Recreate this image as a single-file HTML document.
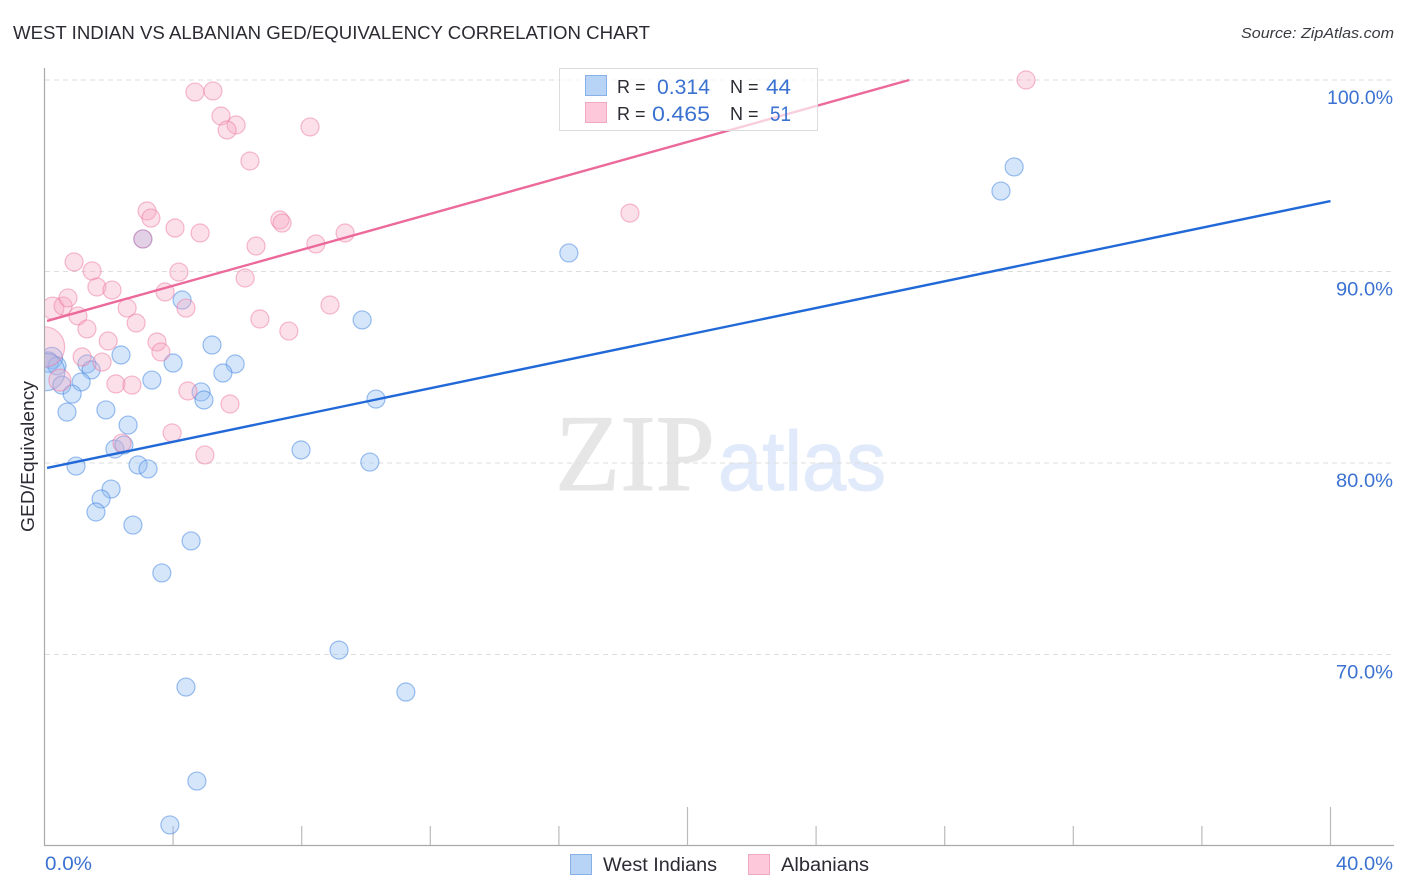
<!DOCTYPE html>
<html lang="en">
<head>
<meta charset="utf-8">
<title>West Indian vs Albanian GED/Equivalency Correlation Chart</title>
<style>
html,body{margin:0;padding:0;background:#fff;width:1406px;height:892px;overflow:hidden}
svg{display:block;font-family:"Liberation Sans",sans-serif}
</style>
</head>
<body>
<svg id="chart" xmlns="http://www.w3.org/2000/svg" width="1406" height="892" viewBox="0 0 1406 892">
  <text x="13" y="39" font-size="18.5" fill="#2b2b33" textLength="637" lengthAdjust="spacingAndGlyphs">WEST INDIAN VS ALBANIAN GED/EQUIVALENCY CORRELATION CHART</text>
  <text x="1241" y="38" font-size="15" font-style="italic" fill="#3a3a42" textLength="153" lengthAdjust="spacingAndGlyphs">Source: ZipAtlas.com</text>
  <text transform="translate(34,532) rotate(-90)" font-size="18" fill="#2b2b33" textLength="151" lengthAdjust="spacingAndGlyphs">GED/Equivalency</text>

  <g>
    <text x="555" y="490" font-family="'Liberation Serif',serif" font-size="109" fill="#e6e6e6" stroke="#e6e6e6" stroke-width="1" textLength="160" lengthAdjust="spacingAndGlyphs">ZIP</text>
    <text x="718" y="490" font-family="'Liberation Sans',sans-serif" font-size="84" fill="#e0eafa" stroke="#e0eafa" stroke-width="1" textLength="168" lengthAdjust="spacingAndGlyphs">atlas</text>
  </g>

  <g id="grid"></g>
  <g id="axes"></g>
  <svg x="45" y="60" width="1349" height="785" viewBox="45 60 1349 785" overflow="hidden">
    <g id="blue-points"></g>
    <g id="pink-points"></g>
    <g id="trends"></g>
  </svg>
  <g id="labels"></g>

  <g>
    <rect x="559.5" y="68.5" width="258" height="62" fill="#fff" fill-opacity="0.68" stroke="#dcdcdc" stroke-width="1"></rect>
    <rect x="585.5" y="75.5" width="21" height="20" fill="#b7d3f6" stroke="#86b0e6"></rect>
    <rect x="585.5" y="102.5" width="21" height="20" fill="#fcc8da" stroke="#efa9c0"></rect>
    <text x="617" y="93" font-size="18" fill="#2b2b33">R =</text>
    <text x="657" y="94" font-size="21" fill="#3b72d1" textLength="53" lengthAdjust="spacingAndGlyphs">0.314</text>
    <text x="730" y="93" font-size="18" fill="#2b2b33">N =</text>
    <text x="766" y="94" font-size="21" fill="#3b72d1" textLength="25" lengthAdjust="spacingAndGlyphs">44</text>
    <text x="617" y="120" font-size="18" fill="#2b2b33">R =</text>
    <text x="652" y="121" font-size="21" fill="#3b72d1" textLength="58" lengthAdjust="spacingAndGlyphs">0.465</text>
    <text x="730" y="120" font-size="18" fill="#2b2b33">N =</text>
    <text x="770" y="121" font-size="21" fill="#3b72d1" textLength="21" lengthAdjust="spacingAndGlyphs">51</text>
  </g>

  <g>
    <rect x="570.5" y="854.5" width="21" height="20" fill="#b7d3f6" stroke="#86b0e6"></rect>
    <text x="603" y="871" font-size="19" fill="#2b2b33" textLength="114" lengthAdjust="spacingAndGlyphs">West Indians</text>
    <rect x="748.5" y="854.5" width="21" height="20" fill="#fcc8da" stroke="#efa9c0"></rect>
    <text x="781" y="871" font-size="19" fill="#2b2b33" textLength="88" lengthAdjust="spacingAndGlyphs">Albanians</text>
  </g>
</svg>
<script>
const blueX = [0.23,0.11,0.39,0.05,1.32,1.45,1.14,0.54,0.86,0.70,1.91,2.38,3.34,4.00,4.28,3.06,5.21,5.93,5.55,4.87,4.96,9.88,10.31,2.60,2.19,2.47,2.91,3.22,0.98,2.07,1.76,1.60,2.75,4.56,3.65,7.98,10.12,9.16,4.40,11.24,4.74,3.90,16.31,29.75,30.16];
const blueY = [85.48,85.27,85.07,84.75,85.17,84.86,84.23,84.07,83.60,82.66,82.77,85.64,84.33,85.22,88.51,91.70,86.16,85.17,84.70,83.71,83.29,87.47,83.34,81.98,80.73,80.94,79.90,79.69,79.84,78.64,78.12,77.44,76.76,75.93,74.26,80.68,80.05,70.23,68.30,68.04,63.39,61.10,90.97,94.20,95.46];
const blueWeight = [1.4,1.3,1,4.3,1,1,1,1,1,1,1,1,1,1,1,1,1,1,1,1,1,1,1,1,1,1,1,1,1,1,1,1,1,1,1,1,1,1,1,1,1,1,1,1,1];
const pinkX = [0,0.26,0.58,0.73,0.92,1.48,1.63,2.10,1.04,1.32,1.98,2.57,2.85,1.17,1.79,2.22,2.72,3.50,3.62,3.75,4.18,4.40,3.06,3.19,3.31,4.06,4.84,4.68,5.24,5.49,5.96,5.68,6.39,8.26,7.32,7.39,6.58,8.44,9.35,6.24,6.70,7.60,8.88,4.46,5.77,3.97,4.99,2.41,18.21,30.53,0.48];
const pinkY = [86.06,88.09,88.20,88.62,90.50,90.03,89.19,89.03,87.68,87.00,86.37,88.09,87.31,85.54,85.27,84.13,84.07,86.32,85.80,88.93,89.97,88.09,91.70,93.16,92.79,92.27,92.01,99.37,99.43,98.12,97.65,97.39,95.77,97.55,92.69,92.53,91.33,91.44,92.01,89.66,87.52,86.89,88.25,83.76,83.08,81.57,80.42,81.04,93.05,100.00,84.33];
const pinkWeight = [5,1.5,1,1,1,1,1,1,1,1,1,1,1,1,1,1,1,1,1,1,1,1,1,1,1,1,1,1,1,1,1,1,1,1,1,1,1,1,1,1,1,1,1,1,1,1,1,1,1,1,1.5];
const blueTrendX = [0.08,40];
const blueTrendY = [79.74,93.68];
const pinkTrendX = [0.08,26.9];
const pinkTrendY = [87.42,100];
const yTicks = [100,90,80,70];
const yTickLabels = ['100.0%','90.0%','80.0%','70.0%'];
const xTicks = [0,4,8,12,16,20,24,28,32,36,40];
const xLongTicks = [20,40];
const xEndLabels = ['0.0%','40.0%'];

const NS = 'http://www.w3.org/2000/svg';
function sx(v){ return 44.5 + v * 32.15; }
function sy(v){ return 80 + (100 - v) * 19.15; }

const gridG = document.getElementById('grid');
const axesG = document.getElementById('axes');
const labelsG = document.getElementById('labels');
const trendsG = document.getElementById('trends');

yTicks.forEach(function(t, i){
  const line = document.createElementNS(NS, 'line');
  
  
  line.setAttribute('x1', 45);
  line.setAttribute('x2', 1394);
  line.setAttribute('y1', sy(t));
  line.setAttribute('y2', sy(t));
  line.setAttribute('stroke', '#dddddd');
  line.setAttribute('stroke-width', '1');
  line.setAttribute('stroke-dasharray', '5 4');
  gridG.appendChild(line);

  const label = document.createElementNS(NS, 'text');
  
  
  label.setAttribute('x', 1393);
  label.setAttribute('y', sy(t) + 24);
  label.setAttribute('text-anchor', 'end');
  label.setAttribute('font-size', '19.5');
  label.setAttribute('fill', '#3b72d1');
  label.setAttribute('textLength', yTickLabels[i].length > 5 ? 66 : 57);
  label.setAttribute('lengthAdjust', 'spacingAndGlyphs');
  label.textContent = yTickLabels[i];
  labelsG.appendChild(label);
});

const yAxis = document.createElementNS(NS, 'line');


yAxis.setAttribute('x1', 44.5);
yAxis.setAttribute('x2', 44.5);
yAxis.setAttribute('y1', 68);
yAxis.setAttribute('y2', 846);
yAxis.setAttribute('stroke', '#aaaaaa');
yAxis.setAttribute('stroke-width', '1.2');
axesG.appendChild(yAxis);

const xAxis = document.createElementNS(NS, 'line');


xAxis.setAttribute('x1', 44);
xAxis.setAttribute('x2', 1394);
xAxis.setAttribute('y1', 845.5);
xAxis.setAttribute('y2', 845.5);
xAxis.setAttribute('stroke', '#aaaaaa');
xAxis.setAttribute('stroke-width', '1.2');
axesG.appendChild(xAxis);

xTicks.slice(1).forEach(function(t){
  const tick = document.createElementNS(NS, 'line');
  
  
  tick.setAttribute('x1', sx(t));
  tick.setAttribute('x2', sx(t));
  tick.setAttribute('y1', xLongTicks.indexOf(t) >= 0 ? 807 : 826);
  tick.setAttribute('y2', 845);
  tick.setAttribute('stroke', '#bbbbbb');
  tick.setAttribute('stroke-width', '1.2');
  axesG.appendChild(tick);
});

const xStart = document.createElementNS(NS, 'text');


xStart.setAttribute('x', 45);
xStart.setAttribute('y', 870);
xStart.setAttribute('font-size', '19.5');
xStart.setAttribute('fill', '#3b72d1');
xStart.setAttribute('textLength', '47');
xStart.setAttribute('lengthAdjust', 'spacingAndGlyphs');
xStart.textContent = xEndLabels[0];
labelsG.appendChild(xStart);

const xEnd = document.createElementNS(NS, 'text');


xEnd.setAttribute('x', 1393);
xEnd.setAttribute('y', 870);
xEnd.setAttribute('text-anchor', 'end');
xEnd.setAttribute('font-size', '19.5');
xEnd.setAttribute('fill', '#3b72d1');
xEnd.setAttribute('textLength', '57');
xEnd.setAttribute('lengthAdjust', 'spacingAndGlyphs');
xEnd.textContent = xEndLabels[1];
labelsG.appendChild(xEnd);

const blueG = document.getElementById('blue-points');
blueX.forEach(function(x, i){
  const c = document.createElementNS(NS, 'circle');
  
  
  c.setAttribute('cx', sx(x));
  c.setAttribute('cy', sy(blueY[i]));
  c.setAttribute('r', 9 * Math.sqrt(blueWeight[i]));
  c.setAttribute('fill', 'rgba(147,190,243,0.38)');
  c.setAttribute('stroke', 'rgba(60,130,225,0.5)');
  c.setAttribute('stroke-width', '1.2');
  blueG.appendChild(c);
});

const pinkG = document.getElementById('pink-points');
pinkX.forEach(function(x, i){
  const c = document.createElementNS(NS, 'circle');
  
  
  c.setAttribute('cx', sx(x));
  c.setAttribute('cy', sy(pinkY[i]));
  c.setAttribute('r', 9 * Math.sqrt(pinkWeight[i]));
  c.setAttribute('fill', 'rgba(248,170,195,0.36)');
  c.setAttribute('stroke', 'rgba(235,120,160,0.5)');
  c.setAttribute('stroke-width', '1.2');
  pinkG.appendChild(c);
});

const blueTrend = document.createElementNS(NS, 'line');


blueTrend.setAttribute('x1', sx(blueTrendX[0]));
blueTrend.setAttribute('y1', sy(blueTrendY[0]));
blueTrend.setAttribute('x2', sx(blueTrendX[1]));
blueTrend.setAttribute('y2', sy(blueTrendY[1]));
blueTrend.setAttribute('stroke', '#2269d8');
blueTrend.setAttribute('stroke-width', '2.4');
trendsG.appendChild(blueTrend);

const pinkTrend = document.createElementNS(NS, 'line');


pinkTrend.setAttribute('x1', sx(pinkTrendX[0]));
pinkTrend.setAttribute('y1', sy(pinkTrendY[0]));
pinkTrend.setAttribute('x2', sx(pinkTrendX[1]));
pinkTrend.setAttribute('y2', sy(pinkTrendY[1]));
pinkTrend.setAttribute('stroke', '#ec6a9b');
pinkTrend.setAttribute('stroke-width', '2.4');
trendsG.appendChild(pinkTrend);
</script>
</body>
</html>
